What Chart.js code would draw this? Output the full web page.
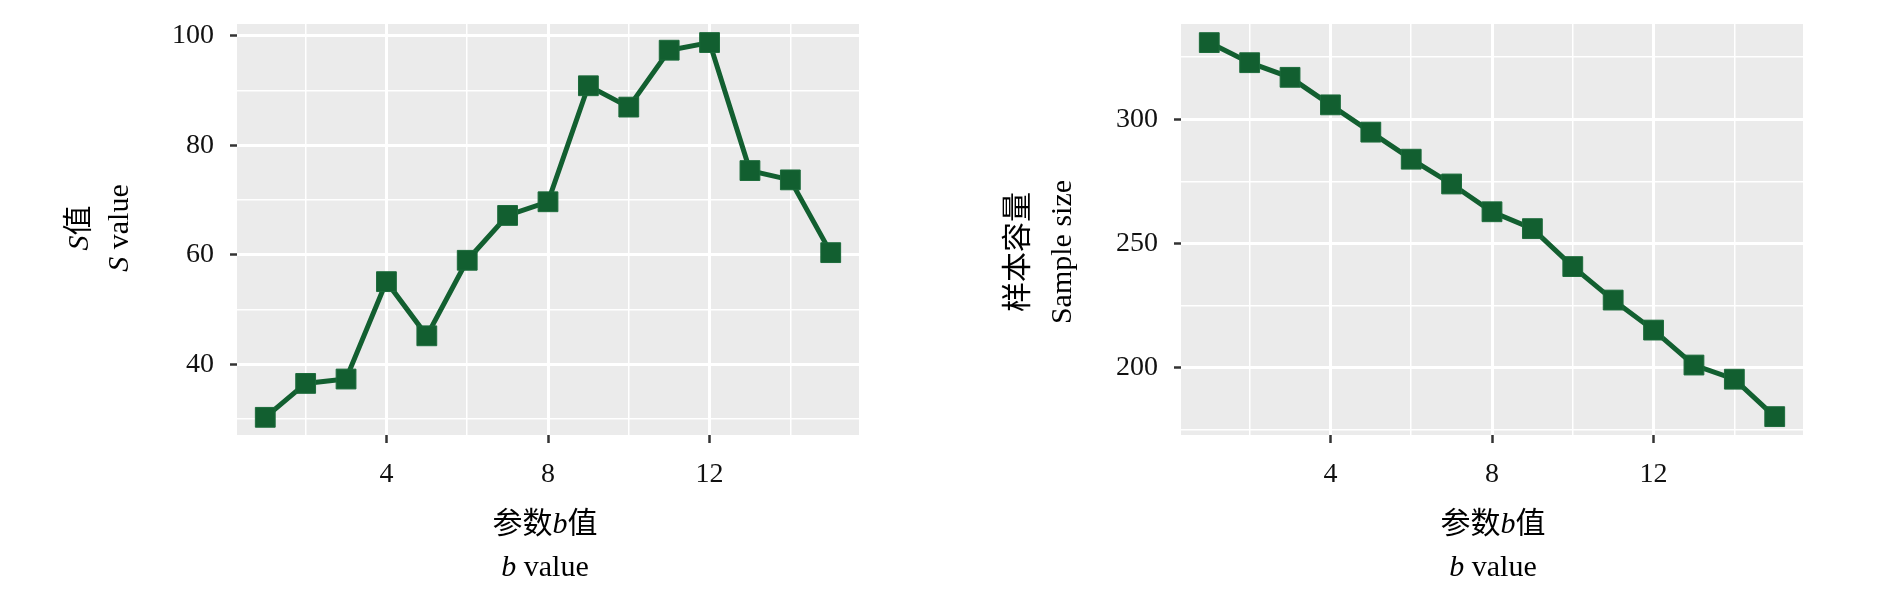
<!DOCTYPE html>
<html>
  <head>
    <title>b value</title>
    <meta charset="UTF-8">
    <style>
      body { margin: 0; background: #ffffff; width: 1890px; height: 598px; position: relative; overflow: hidden; }
      canvas { position: absolute; top: 0; }
    </style>
  </head>
  <body>
    <canvas id="sChart" width="945" height="598" style="left:0px"></canvas>
    <canvas id="nChart" width="945" height="598" style="left:944px"></canvas>
    <script src="https://cdn.jsdelivr.net/npm/chart.js/dist/chart.umd.min.js"></script>
    <script>
      // values
      const bValues = [1, 2, 3, 4, 5, 6, 7, 8, 9, 10, 11, 12, 13, 14, 15];
      const sValues = [30.3, 36.5, 37.3, 55.1, 45.2, 59.0, 67.2, 69.7, 90.9, 87.0, 97.4, 98.8, 75.4, 73.7, 60.4];
      const sampleSizes = [330.9, 322.8, 316.9, 305.8, 294.8, 283.9, 273.9, 262.7, 255.9, 240.6, 227.1, 215.0, 200.9, 195.2, 180.1];

      // tick labels / grid positions
      const xMajorTicks = [4, 8, 12];
      const xMinorTicks = [2, 6, 10, 14];
      const sMajorTicks = [40, 60, 80, 100];
      const sMinorTicks = [30, 50, 70, 90];
      const nMajorTicks = [200, 250, 300];
      const nMinorTicks = [175, 225, 275, 325];

      const GREEN = '#125f30';
      const SERIF = "'Liberation Serif', 'Times New Roman', 'Noto Sans CJK SC', serif";

      function fontFor(seg, size) {
        return (seg.i ? 'italic ' : '') + size + 'px ' + SERIF;
      }

      // draws one line of mixed regular/italic text centred on (x, y)
      function drawMixed(ctx, segs, x, y, angle, size) {
        ctx.save();
        ctx.translate(x, y);
        ctx.rotate(angle);
        ctx.textBaseline = 'alphabetic';
        ctx.textAlign = 'left';
        ctx.fillStyle = '#000000';
        let total = 0;
        segs.forEach(s => { ctx.font = fontFor(s, size); total += ctx.measureText(s.t).width; });
        let pos = -total / 2;
        segs.forEach(s => {
          ctx.font = fontFor(s, size);
          ctx.fillText(s.t, pos, 0);
          pos += ctx.measureText(s.t).width;
        });
        ctx.restore();
      }

      function titlesPlugin(yLines, yBase, yCenter, xCenter) {
        return {
          id: 'mixedTitles',
          afterDraw(chart) {
            const ctx = chart.ctx;
            yLines.forEach((segs, i) => drawMixed(ctx, segs, yBase[i], yCenter, -Math.PI / 2, 30));
            drawMixed(ctx, [{t: '参数'}, {t: 'b', i: true}, {t: '值'}], xCenter, 533, 0, 30);
            drawMixed(ctx, [{t: 'b', i: true}, {t: ' value'}], xCenter, 576, 0, 30);
          }
        };
      }

      const panelBg = {
        id: 'panelBg',
        beforeDraw(chart) {
          const a = chart.chartArea;
          chart.ctx.save();
          chart.ctx.fillStyle = '#ebebeb';
          chart.ctx.fillRect(a.left, a.top, a.right - a.left, a.bottom - a.top);
          chart.ctx.restore();
        }
      };

      function makeChart(id, values, yMin, yMax, majors, minors, plugin) {
        const allY = minors.concat(majors).sort((a, b) => a - b);
        const allX = xMinorTicks.concat(xMajorTicks).sort((a, b) => a - b);
        return new Chart(document.getElementById(id), {
          type: 'line',
          data: {
            datasets: [{
              data: bValues.map((b, i) => ({x: b, y: values[i]})),
              borderColor: GREEN,
              borderWidth: 5,
              backgroundColor: GREEN,
              pointStyle: 'rect',
              pointRadius: 14,
              pointBackgroundColor: GREEN,
              pointBorderColor: '#1c6b3b',
              pointBorderWidth: 1,
              tension: 0,
              clip: false
            }]
          },
          options: {
            responsive: false,
            animation: false,
            devicePixelRatio: 1,
            layout: { padding: { top: 24, right: 86, left: 0, bottom: 0 } },
            plugins: { legend: { display: false }, tooltip: { enabled: false } },
            scales: {
              x: {
                type: 'linear',
                min: 0.3,
                max: 15.7,
                afterBuildTicks: s => { s.ticks = allX.map(v => ({value: v})); },
                afterFit: s => { s.height = 163; s.paddingLeft = 0; s.paddingRight = 0; },
                border: { display: false },
                grid: {
                  color: '#ffffff',
                  lineWidth: c => xMajorTicks.includes(c.tick && c.tick.value) ? 3 : 1.5,
                  tickLength: 8,
                  tickWidth: 2.5,
                  tickColor: c => xMajorTicks.includes(c.tick && c.tick.value) ? '#333333' : 'rgba(0,0,0,0)'
                },
                ticks: {
                  autoSkip: false,
                  maxRotation: 0,
                  padding: 15,
                  color: '#111111',
                  font: { family: SERIF, size: 28 },
                  callback: v => xMajorTicks.includes(v) ? String(v) : ''
                }
              },
              y: {
                type: 'linear',
                min: yMin,
                max: yMax,
                afterBuildTicks: s => { s.ticks = allY.map(v => ({value: v})); },
                afterFit: s => { s.width = 237; s.paddingTop = 0; s.paddingBottom = 0; },
                border: { display: false },
                grid: {
                  color: '#ffffff',
                  lineWidth: c => majors.includes(c.tick && c.tick.value) ? 3 : 1.5,
                  tickLength: 7,
                  tickWidth: 2.5,
                  tickColor: c => majors.includes(c.tick && c.tick.value) ? '#333333' : 'rgba(0,0,0,0)'
                },
                ticks: {
                  autoSkip: false,
                  padding: 16,
                  color: '#111111',
                  font: { family: SERIF, size: 28 },
                  callback: v => majors.includes(v) ? String(v) : ''
                }
              }
            }
          },
          plugins: [panelBg, plugin]
        });
      }

      makeChart('sChart', sValues, 27.07, 102.19, sMajorTicks, sMinorTicks,
        titlesPlugin([[{t: 'S', i: true}, {t: '值'}], [{t: 'S', i: true}, {t: ' value'}]], [88, 128], 228, 545));

      makeChart('nChart', sampleSizes, 172.7, 338.4, nMajorTicks, nMinorTicks,
        titlesPlugin([[{t: '样本容量'}], [{t: 'Sample size'}]], [83, 127], 252, 549));
    </script>
  </body>
</html>
